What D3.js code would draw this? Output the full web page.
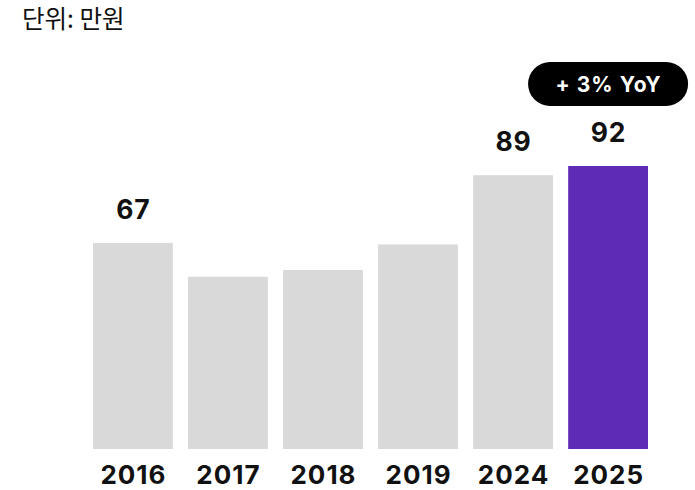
<!DOCTYPE html>
<html>
<head>
<meta charset="utf-8">
<script src="https://cdn.jsdelivr.net/npm/d3@7"></script>
<style>
  body { margin: 0; background: #fff; }
  text { font-family: Inter, "Noto Sans", sans-serif; }
</style>
</head>
<body>
<div id="chart"></div>
<script>
  // Data.
  var years = ["2016", "2017", "2018", "2019", "2024", "2025"];
  var values = [67, 56, 58.2, 66.5, 89, 92];
  var shownLabels = ["67", null, null, null, "89", "92"];
  var unitLabel = "단위: 만원";
  var badgeText = "+ 3% YoY";

  var width = 695, height = 490;
  var baseY = 449;

  var svg = d3.select("#chart")
    .append("svg")
      .attr("width", width)
      .attr("height", height);

  var x = d3.scaleBand()
      .domain(years)
      .range([93, 648])
      .paddingInner(0.16)
      .paddingOuter(0);

  var y = d3.scaleLinear()
      .domain([0, 92])
      .range([baseY, 166]);

  var data = years.map(function(yr, i) {
    return { year: yr, value: values[i], label: shownLabels[i], last: i === years.length - 1 };
  });

  // Unit caption.
  svg.append("text")
      .attr("x", 22)
      .attr("y", 28)
      .style("font-family", "'Noto Sans CJK KR', sans-serif")
      .style("font-size", "24.5px")
      .attr("fill", "#111")
      .text(unitLabel);

  // Bars.
  svg.selectAll("rect.bar")
    .data(data)
    .enter()
    .append("rect")
      .attr("class", "bar")
      .attr("x", function(d){ return x(d.year); })
      .attr("y", function(d){ return y(d.value); })
      .attr("width", x.bandwidth())
      .attr("height", function(d){ return baseY - y(d.value); })
      .attr("fill", function(d){ return d.last ? "#5d2bb6" : "#d9d9d9"; });

  // Value labels (only some are shown).
  svg.selectAll("text.val")
    .data(data.filter(function(d){ return d.label; }))
    .enter()
    .append("text")
      .attr("class", "val")
      .attr("x", function(d){ return x(d.year) + x.bandwidth() / 2 + 0.5; })
      .attr("y", function(d){ return y(d.value) - 24; })
      .attr("text-anchor", "middle")
      .style("font-size", "26.5px")
      .style("font-weight", 700)
      .style("letter-spacing", "0.8px")
      .attr("fill", "#111")
      .text(function(d){ return d.label; });

  // Year axis.
  var xAxis = svg.append("g")
      .attr("transform", "translate(0," + baseY + ")")
      .call(d3.axisBottom(x).tickSize(0).tickPadding(0));
  xAxis.select(".domain").remove();
  xAxis.selectAll("text")
      .attr("y", 35)
      .attr("dy", 0)
      .attr("dx", 0.5)
      .style("font-family", "Inter, sans-serif")
      .style("font-size", "26px")
      .style("font-weight", 700)
      .style("letter-spacing", "1px")
      .attr("fill", "#111");

  // YoY badge over the last bar.
  var lastYear = years[years.length - 1];
  var cx = x(lastYear) + x.bandwidth() / 2;
  var badge = svg.append("g").attr("transform", "translate(" + cx + ",84)");
  badge.append("rect")
      .attr("x", -80)
      .attr("y", -22)
      .attr("width", 160)
      .attr("height", 44)
      .attr("rx", 22)
      .attr("fill", "#000");
  badge.append("text")
      .attr("x", 0.5)
      .attr("y", 8)
      .attr("text-anchor", "middle")
      .style("font-size", "21px")
      .style("font-weight", 700)
      .style("letter-spacing", "1px")
      .attr("fill", "#fff")
      .text(badgeText);
</script>
</body>
</html>
